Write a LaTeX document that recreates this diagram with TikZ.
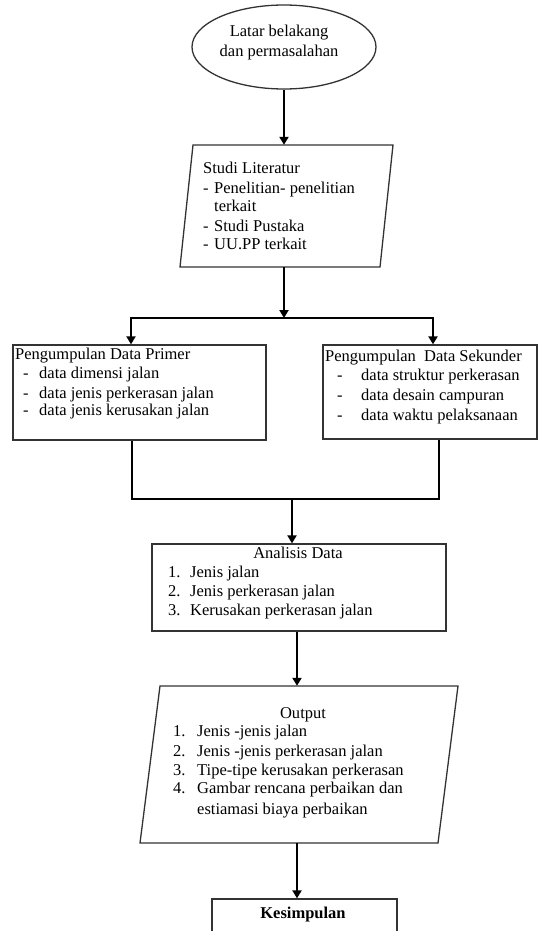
\documentclass[tikz,border=0pt]{standalone}
\usepackage{fontspec}
\setmainfont{Liberation Serif}
\usetikzlibrary{shapes.geometric,arrows.meta,calc}
\begin{document}
\begin{tikzpicture}[x=1pt,y=-1pt,
  box/.style={draw=black!80, line width=1.3pt, fill=white, inner sep=0pt},
  ghost/.style={inner sep=0pt, draw=none},
  conn/.style={line width=2.6pt, black},
  arr/.style={conn, -{Triangle[length=8pt,width=9pt]}},
  txt/.style={anchor=base west, inner sep=0pt, font=\fontsize{16.5}{19.5}\selectfont},
  ctxt/.style={anchor=base, inner sep=0pt, font=\fontsize{16.5}{19.5}\selectfont}]
\useasboundingbox (0,0) rectangle (539,931);
\clip (0,0) rectangle (539,931);
\fill[white] (0,0) rectangle (539,931);

% shapes
\node[box, ellipse, minimum width=184pt, minimum height=84pt] (lat) at (284,47) {};
\node[ghost, minimum width=200pt, minimum height=122pt] (studi) at (284,206) {};
\draw[box] (193,145) -- (393,145) -- (380,267) -- (180,267) -- cycle;
\node[box, minimum width=253pt, minimum height=95pt] (primer) at (139.5,392.5) {};
\node[box, minimum width=214pt, minimum height=94pt] (sek) at (430,392) {};
\node[box, minimum width=294pt, minimum height=87pt] (ana) at (299,587.5) {};
\node[ghost, minimum width=300pt, minimum height=157pt] (out) at (297,764.5) {};
\draw[box] (160,686) -- (458,686) -- (438,843) -- (140,843) -- cycle;
\node[box, minimum width=185pt, minimum height=46pt] (kes) at (304.5,922) {};

% connectors
\coordinate (j1) at (284,318);
\coordinate (j2) at (292,499);
\draw[arr] (lat.south) -- (studi.north);
\draw[arr] (studi.south) -- (j1);
\draw[arr] (j1) -| ([xshift=-8.5pt]primer.north);
\draw[arr] (j1) -| ([xshift=3pt]sek.north);
\draw[conn] ([xshift=-7.5pt]primer.south) |- (j2) -| ([xshift=9pt]sek.south);
\draw[arr] (j2) -- (j2 |- ana.north);
\draw[arr] (out.north |- ana.south) -- (out.north);
\draw[arr] (out.south) -- (out.south |- kes.north);

% texts
\node[ctxt] (lat1) at (279,37) {Latar belakang};
\node[ctxt] (lat2) at (279,57) {dan permasalahan};

\node[txt] (st0) at (203,173) {Studi Literatur};
\node[txt] (st1) at (203,193) {\makebox[11pt][l]{-}Penelitian- penelitian};
\node[txt] (st2) at (214,211) {terkait};
\node[txt] (st3) at (203,231) {\makebox[11pt][l]{-}Studi Pustaka};
\node[txt] (st4) at (203,249) {\makebox[11pt][l]{-}UU.PP terkait};

\node[txt] (pr0) at (15,359) {Pengumpulan Data Primer};
\node[txt] (pr1) at (23,378) {\makebox[16pt][l]{-}data dimensi jalan};
\node[txt] (pr2) at (23,398) {\makebox[16pt][l]{-}data jenis perkerasan jalan};
\node[txt] (pr3) at (23,415) {\makebox[16pt][l]{-}data jenis kerusakan jalan};

\node[txt] (se0) at (325,361) {Pengumpulan\ \ Data Sekunder};
\node[txt] (se1) at (337,380) {\makebox[24pt][l]{-}data struktur perkerasan};
\node[txt] (se2) at (337,400) {\makebox[24pt][l]{-}data desain campuran};
\node[txt] (se3) at (337,420) {\makebox[24pt][l]{-}data waktu pelaksanaan};

\node[ctxt] (an0) at (298,558) {Analisis Data};
\node[txt] (an1) at (168,577) {\makebox[22pt][l]{1.}Jenis jalan};
\node[txt] (an2) at (168,596) {\makebox[22pt][l]{2.}Jenis perkerasan jalan};
\node[txt] (an3) at (168,615) {\makebox[22pt][l]{3.}Kerusakan perkerasan jalan};

\node[ctxt] (ou0) at (303,718) {Output};
\node[txt] (ou1) at (173,736) {\makebox[24pt][l]{1.}Jenis -jenis jalan};
\node[txt] (ou2) at (173,756) {\makebox[24pt][l]{2.}Jenis -jenis perkerasan jalan};
\node[txt] (ou3) at (173,775) {\makebox[24pt][l]{3.}Tipe-tipe kerusakan perkerasan};
\node[txt] (ou4) at (173,793) {\makebox[24pt][l]{4.}Gambar rencana perbaikan dan};
\node[txt] (ou5) at (197,814) {estiamasi biaya perbaikan};

\node[ctxt, font=\fontsize{16.5}{19.5}\selectfont\bfseries] (ke0) at (303,918) {Kesimpulan};
\end{tikzpicture}
\end{document}
